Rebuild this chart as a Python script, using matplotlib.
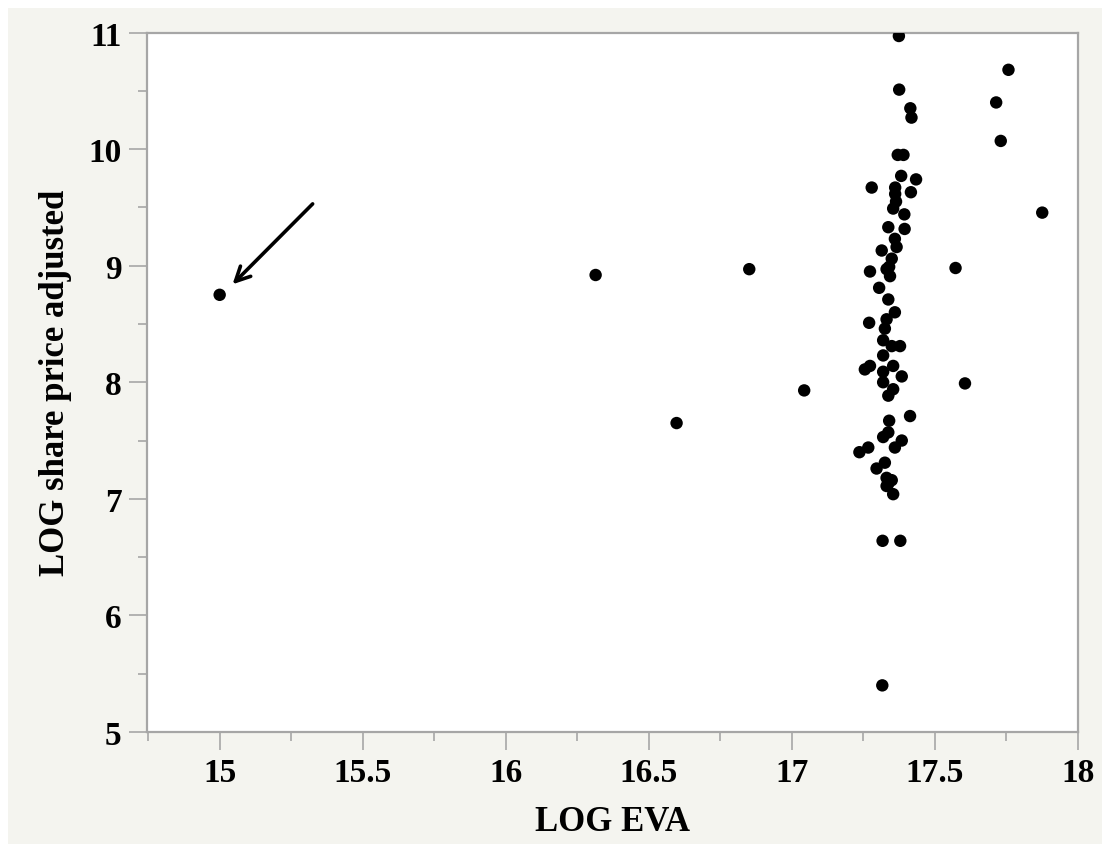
import matplotlib
matplotlib.use("Agg")
import matplotlib.pyplot as plt
from matplotlib.ticker import MultipleLocator
from matplotlib.patches import Rectangle

log_eva = [
    15.000, 16.314, 16.597, 16.851, 17.043, 17.757, 17.714, 17.730, 17.875, 17.572,
    17.605, 17.316, 17.317, 17.379, 17.354, 17.337, 17.331,
    17.374, 17.375, 17.414, 17.418, 17.370, 17.390, 17.382, 17.434, 17.279, 17.416,
    17.361, 17.361, 17.364, 17.354, 17.393, 17.337, 17.394, 17.360, 17.366, 17.314,
    17.349, 17.340,
    17.273, 17.331, 17.343, 17.305, 17.337, 17.360, 17.270, 17.331, 17.325, 17.319,
    17.378, 17.349, 17.319, 17.255, 17.273, 17.354, 17.319, 17.384, 17.319, 17.354,
    17.337, 17.340, 17.413, 17.337, 17.319, 17.384, 17.360, 17.267, 17.236, 17.325,
    17.296, 17.349, 17.331,
]
log_price = [
    8.75, 8.92, 7.65, 8.97, 7.93, 10.68, 10.40, 10.07, 9.455, 8.98,
    7.99, 5.40, 6.64, 6.64, 7.04, 7.13, 7.18,
    10.97, 10.51, 10.35, 10.27, 9.95, 9.95, 9.77, 9.74, 9.67, 9.63,
    9.67, 9.615, 9.55, 9.49, 9.44, 9.33, 9.315, 9.23, 9.16, 9.13,
    9.06, 8.99,
    8.95, 8.97, 8.91, 8.81, 8.71, 8.60, 8.51, 8.54, 8.46, 8.36,
    8.31, 8.31, 8.23, 8.11, 8.14, 8.14, 8.09, 8.05, 8.00, 7.94,
    7.885, 7.67, 7.71, 7.57, 7.53, 7.50, 7.44, 7.44, 7.40, 7.31,
    7.26, 7.16, 7.11,
]

W, H = 1110, 853
fig = plt.figure(figsize=(W / 100, H / 100), dpi=100, facecolor="white")
fig.patches.append(Rectangle((8 / W, 8 / H), (W - 16) / W, (H - 17) / H,
                             transform=fig.transFigure, facecolor="#f4f4ef",
                             edgecolor="none", zorder=-10))
ax = fig.add_axes([146.7 / W, 1 - 733 / H, (1078 - 146.7) / W, (733 - 33.5) / H])
ax.set_facecolor("white")

ax.scatter(log_eva, log_price, s=80, color="black", edgecolors="none", zorder=3)

ax.annotate("", xy=(15.045, 8.84), xytext=(15.325, 9.53),
            arrowprops=dict(arrowstyle="->", color="black", lw=2.6,
                            mutation_scale=26, shrinkA=0, shrinkB=0))

ax.set_xlim(14.745, 18.0)
ax.set_ylim(5, 11)
ax.xaxis.set_minor_locator(MultipleLocator(0.25))
ax.yaxis.set_major_locator(MultipleLocator(1))
ax.yaxis.set_minor_locator(MultipleLocator(0.5))
ax.set_xticks([15, 15.5, 16, 16.5, 17, 17.5, 18])
ax.set_xticklabels(["15", "15.5", "16", "16.5", "17", "17.5", "18"])

grey = "#a6a6a6"
for sp in ax.spines.values():
    sp.set_color(grey)
    sp.set_linewidth(1.6)

font = "Liberation Serif"
ax.tick_params(which="major", length=13, width=1.2, color=grey, pad=5)
ax.tick_params(which="minor", length=6.5, width=1.2, color=grey)
for lab in ax.get_xticklabels() + ax.get_yticklabels():
    lab.set_fontfamily(font)
    lab.set_fontweight("bold")
    lab.set_fontsize(24)

ax.set_xlabel("LOG EVA", fontfamily=font, fontweight="bold", fontsize=25, labelpad=12)
ax.set_ylabel("LOG share price adjusted", fontfamily=font, fontweight="bold",
              fontsize=25, labelpad=12)

fig.savefig("out.png", dpi=100, facecolor=fig.get_facecolor())
